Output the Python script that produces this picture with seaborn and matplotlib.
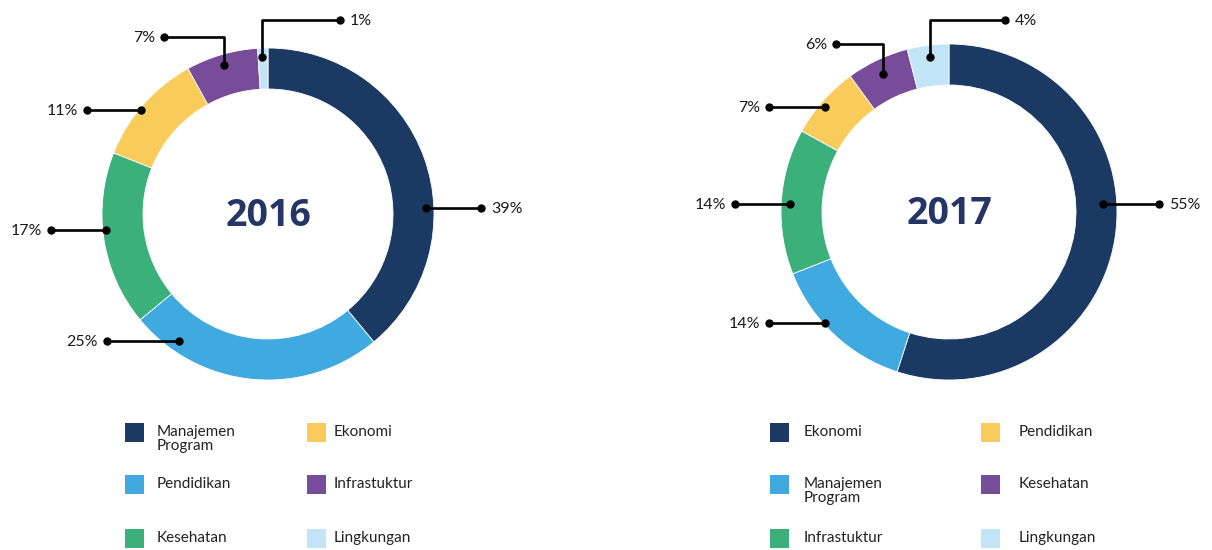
import matplotlib
matplotlib.use("Agg")
import matplotlib.pyplot as plt
import seaborn as sns
from matplotlib.patches import Rectangle

# data
kategori_2016 = ["Manajemen\nProgram", "Pendidikan", "Kesehatan", "Ekonomi", "Infrastuktur", "Lingkungan"]
nilai_2016 = [39, 25, 17, 11, 7, 1]

kategori_2017 = ["Ekonomi", "Manajemen\nProgram", "Infrastuktur", "Pendidikan", "Kesehatan", "Lingkungan"]
nilai_2017 = [55, 14, 14, 7, 6, 4]

warna = ["#1a3a63", "#3fa9e0", "#3bb07a", "#f8cb5a", "#774c98", "#c1e4f7"]

sns.set_theme(style="white")
plt.rcParams["font.family"] = ["Lato", "DejaVu Sans"]

W, H = 1212, 550
fig = plt.figure(figsize=(W / 100, H / 100), dpi=100)
ax = fig.add_axes([0, 0, 1, 1])


def P(x, y):
    # pixel (dari atas) -> koordinat data
    return x, H - y


# garis penunjuk (piksel): titik dalam, siku (opsional), titik luar, posisi teks
leader_2016 = [
    [(426, 208), (481, 208), "left"],
    [(179, 341), (107, 341), "right"],
    [(106, 230), (51, 230), "right"],
    [(141, 110), (87, 110), "right"],
    [(224, 65), (224, 37), (164, 37), "right"],
    [(262, 57), (262, 20), (340, 20), "left"],
]
leader_2017 = [
    [(1103, 204), (1159, 204), "left"],
    [(825, 323), (769, 323), "right"],
    [(790, 204), (735, 204), "right"],
    [(825, 107), (769, 107), "right"],
    [(883, 74), (883, 44), (836, 44), "right"],
    [(930, 57), (930, 20), (1005, 20), "left"],
]

charts = [
    (nilai_2016, kategori_2016, "2016", (268, 214), 166, leader_2016, (125, 307), (157, 334)),
    (nilai_2017, kategori_2017, "2017", (949, 212), 168, leader_2017, (770, 981), (804, 1019)),
]

row_top = [423, 475, 529]

for nilai, kategori, tahun, c, r, leaders, sq_x, tx_x in charts:
    ax.pie(nilai, colors=warna, startangle=90, counterclock=False,
           radius=r, center=P(*c),
           wedgeprops=dict(width=41, edgecolor="white", linewidth=0.6))
    ax.text(*P(c[0] + 1, c[1] + 2), tahun, ha="center", va="center", fontsize=27,
            fontweight="bold", color="#253566", family=["Open Sans", "DejaVu Sans"])

    for v, ld in zip(nilai, leaders):
        pts = [P(*p) for p in ld[:-1]]
        xs = [p[0] for p in pts]
        ys = [p[1] for p in pts]
        ax.plot(xs, ys, color="black", lw=1.9, solid_capstyle="butt", zorder=5)
        ax.plot([xs[0], xs[-1]], [ys[0], ys[-1]], "o", color="black", ms=5, zorder=6)
        side = ld[-1]
        dx = 10 if side == "left" else -9
        ax.text(xs[-1] + dx, ys[-1] - 1, f"{v}%", ha=side, va="center",
                fontsize=11.5, color="#1a1a1a", family=["Lato", "DejaVu Sans"])

    # legenda
    for i, (lab, col) in enumerate(zip(kategori, warna)):
        kol, baris = divmod(i, 3)
        x0, y0 = P(sq_x[kol], row_top[baris] + 19)
        ax.add_patch(Rectangle((x0, y0), 19, 19, facecolor=col, edgecolor="none"))
        ax.text(*P(tx_x[kol], row_top[baris] + 2), lab, ha="left", va="top",
                fontsize=11, color="#222222", linespacing=1.0)

ax.set_xlim(0, W)
ax.set_ylim(0, H)
ax.set_aspect("equal")
ax.axis("off")

fig.savefig("out.png", dpi=100, facecolor="white")
